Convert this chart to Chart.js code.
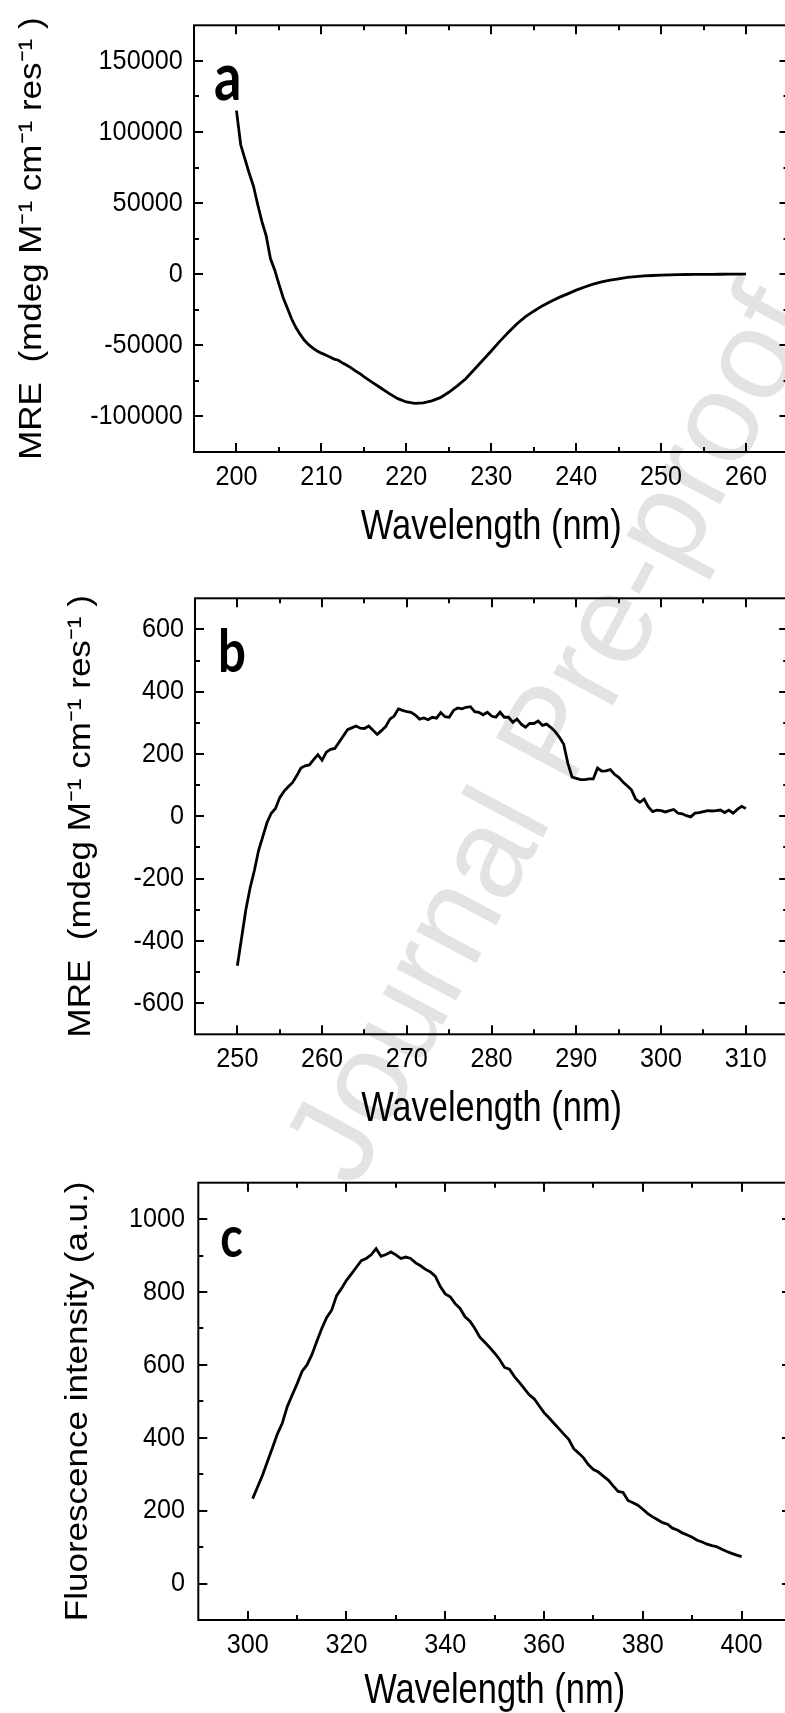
<!DOCTYPE html>
<html>
<head>
<meta charset="utf-8">
<script src="https://cdn.jsdelivr.net/npm/chart.js@4.4.0/dist/chart.umd.min.js"></script>
<style>
html,body{margin:0;padding:0;background:#fff;width:785px;height:1713px;overflow:hidden;position:relative}
#wm{position:absolute;left:548px;top:733px;transform:translate(-50%,-50%) rotate(-62deg);font-family:'Liberation Sans',Arial,sans-serif;font-size:128px;color:#e3e3e3;white-space:nowrap;z-index:0}
canvas{position:absolute;left:0;z-index:1}
</style>
</head>
<body>
<div id="wm">Journal Pre-proof</div>
<canvas id="ca" width="900" height="560" style="top:0px;width:900px;height:560px"></canvas>
<canvas id="cb" width="900" height="580" style="top:560px;width:900px;height:580px"></canvas>
<canvas id="cc" width="900" height="573" style="top:1140px;width:900px;height:573px"></canvas>
<script>
// ---------- Panel a : far-UV CD ----------
const wlA = [200,200.5,201,201.5,202,202.5,203,203.5,204,204.5,205,205.5,206,206.5,207,207.5,208,208.5,209,209.5,210,210.5,211,211.5,212,212.5,213,213.5,214,214.5,215,
  216,217,218,219,220,221,222,223,224,225,226,227,228,229,230,231,232,233,234,235,236,237,238,239,240,241,242,243,244,245,246,247,248,249,250,251,252,253,254,255,256,257,258,259,260];
const mreA = [115000,91000,81000,71000,62000,49000,37000,27000,11000,3000,-7000,-16500,-24000,-31500,-37500,-42300,-46500,-49500,-52000,-54000,-55500,-56800,-58200,-59700,-60500,-62500,-64000,-65800,-68000,-69800,-72000,
  -76000,-80000,-84000,-87500,-89800,-90800,-90500,-89000,-86800,-83000,-78500,-73500,-67000,-60500,-54000,-47200,-41000,-35000,-30000,-26000,-22300,-19200,-16300,-13800,-11200,-9000,-7000,-5400,-4200,-3200,-2300,-1700,-1200,-900,-600,-450,-300,-200,-150,-100,-50,-20,0,0,0];
const xTicksA = [200,210,220,230,240,250,260];
const yTicksA = [-100000,-50000,0,50000,100000,150000];

// ---------- Panel b : near-UV CD ----------
const wlB = [250,250.5,251,251.5,252,252.5,253,253.5,254,254.5,255,255.5,256,256.5,257,257.5,258,258.5,259,259.5,
  260,260.5,261,261.5,262,262.5,263,263.5,264,264.5,265,265.5,266,266.5,267,267.5,268,268.5,269,269.5,
  270,270.5,271,271.5,272,272.5,273,273.5,274,274.5,275,275.5,276,276.5,277,277.5,278,278.5,279,279.5,
  280,280.5,281,281.5,282,282.5,283,283.5,284,284.5,285,285.5,286,286.5,287,287.5,288,288.5,289,289.5,
  290,290.5,291,291.5,292,292.5,293,293.5,294,294.5,295,295.5,296,296.5,297,297.5,298,298.5,299,299.5,
  300,300.5,301,301.5,302,302.5,303,303.5,304,304.5,305,305.5,306,306.5,307,307.5,308,308.5,309,309.5,310];
const mreB = [-480,-390,-300,-230,-175,-110,-65,-20,10,25,60,80,95,108,130,155,162,165,182,198,
  180,206,215,218,238,258,278,284,290,283,282,290,276,263,275,288,312,322,345,340,
  336,334,325,312,316,310,318,315,333,320,318,340,348,345,350,352,336,334,326,334,
  322,318,334,318,318,302,312,296,286,298,298,306,292,296,285,272,254,232,170,126,
  122,118,118,120,120,155,145,146,150,135,125,110,98,85,55,45,55,30,15,20,
  18,14,18,22,10,8,2,-2,10,12,15,18,17,18,20,12,20,10,22,32,25];
const xTicksB = [250,260,270,280,290,300,310];
const yTicksB = [-600,-400,-200,0,200,400,600];

// ---------- Panel c : intrinsic fluorescence ----------
const wlC = [301,302,303,304,305,306,307,308,309,310,311,312,313,314,315,316,317,318,319,320,
  321,322,323,324,325,326,327,328,329,330,331,332,333,334,335,336,337,338,339,340,
  341,342,343,344,345,346,347,348,349,350,351,352,353,354,355,356,357,358,359,360,
  361,362,363,364,365,366,367,368,369,370,371,372,373,374,375,376,377,378,379,380,
  381,382,383,384,385,386,387,388,389,390,391,392,393,394,395,396,397,398,399,400];
const fluC = [233,265,297,335,372,410,440,485,517,548,582,600,628,665,700,730,750,790,810,832,
  850,868,886,892,902,919,898,903,910,902,892,896,892,880,872,862,855,843,815,795,
  787,768,755,732,720,700,676,662,648,632,615,593,588,568,552,535,518,507,488,469,
  455,440,425,410,396,370,358,345,326,313,306,295,284,268,253,250,228,222,215,204,
  192,183,175,167,163,152,147,139,133,127,119,114,108,104,101,94,88,83,78,74];
const xTicksC = [300,320,340,360,380,400];
const yTicksC = [0,200,400,600,800,1000];

const SANS = "'Liberation Sans', Arial, sans-serif";
const TICK_FONT = {family: SANS, size: 28, lineHeight: 1};
const XTITLE_FONT = {family: SANS, size: 42, lineHeight: 1};

// the original artwork uses condensed lettering: condense text runs horizontally around their anchor
function squeezeFor(ctx, rotated) {
  const f = ctx.font;
  if (rotated) return 0.9;           // y-axis titles
  if (f.indexOf('Lato') >= 0) return 0.82; // panel letters
  if (f.indexOf('42px') >= 0) return 0.82; // x-axis title
  return 0.9;                        // tick labels
}
function condenseText(ctx) {
  const orig = ctx.fillText.bind(ctx);
  ctx.fillText = function(text, x, y, maxWidth) {
    const m = this.getTransform();
    const sx = squeezeFor(this, Math.abs(m.b) > 1e-6);
    const px = m.a * x + m.c * y + m.e;
    this.save();
    this.setTransform(new DOMMatrix([sx, 0, 0, 1, px - sx * px, 0]).multiply(m));
    if (maxWidth === undefined) orig(text, x, y); else orig(text, x, y, maxWidth);
    this.restore();
  };
}

function midpoints(t, lo, hi) {
  const step = t[1] - t[0], out = [];
  for (let v = t[0] - step / 2; v <= t[t.length - 1] + step / 2 + 1e-9; v += step) if (v > lo && v < hi) out.push(v);
  return out;
}

const framePlugin = {
  id: 'frame',
  afterDraw(chart, args, o) {
    const {ctx, chartArea: a, scales: {x, y}} = chart;
    ctx.save();
    ctx.strokeStyle = '#000';
    ctx.lineWidth = 2;
    ctx.strokeRect(a.left, a.top, a.right - a.left, a.bottom - a.top);
    const xmaj = o.xTicks, ymaj = o.yTicks;
    const xmin = midpoints(xmaj, x.min, x.max), ymin = midpoints(ymaj, y.min, y.max);
    ctx.beginPath();
    const hx = (v, L) => { const p = Math.round(x.getPixelForValue(v)); ctx.moveTo(p, a.bottom); ctx.lineTo(p, a.bottom - L); ctx.moveTo(p, a.top); ctx.lineTo(p, a.top + L); };
    const hy = (v, L) => { const p = Math.round(y.getPixelForValue(v)); ctx.moveTo(a.left, p); ctx.lineTo(a.left + L, p); ctx.moveTo(a.right, p); ctx.lineTo(a.right - L, p); };
    xmaj.forEach(v => hx(v, 9)); xmin.forEach(v => hx(v, 5));
    ymaj.forEach(v => hy(v, 9)); ymin.forEach(v => hy(v, 5));
    ctx.stroke();
    ctx.fillStyle = '#000';
    ctx.font = 'bold ' + o.letterSize + 'px Lato, "Open Sans", sans-serif';
    ctx.textBaseline = 'alphabetic';
    ctx.textAlign = 'left';
    ctx.fillText(o.letter, a.left + o.lx, a.top + o.ly);
    ctx.restore();
  }
};

function makeChart(id, cfg) {
  const canvas = document.getElementById(id);
  condenseText(canvas.getContext('2d'));
  const pts = cfg.xs.map((v, i) => ({x: v, y: cfg.ys[i]}));
  return new Chart(canvas, {
    type: 'line',
    data: { datasets: [{ data: pts, borderColor: '#000', borderWidth: 2.8, pointRadius: 0, tension: 0, fill: false }] },
    options: {
      responsive: false, animation: false, devicePixelRatio: 1,
      layout: { padding: { left: cfg.padLeft, top: cfg.padTop, right: cfg.padRight, bottom: 0 } },
      plugins: { legend: {display: false}, tooltip: {enabled: false},
        frame: { xTicks: cfg.xTicks, yTicks: cfg.yTicks, letter: cfg.letter, letterSize: cfg.letterSize, lx: cfg.lx, ly: cfg.ly } },
      scales: {
        x: { type: 'linear', position: 'bottom', min: cfg.xmin, max: cfg.xmax,
          grid: { display: false, drawTicks: false }, border: { display: false },
          afterBuildTicks: s => { s.ticks = cfg.xTicks.map(v => ({value: v})); },
          afterFit: s => { s.height = cfg.xHeight; },
          ticks: { font: TICK_FONT, color: '#000', padding: 11, maxRotation: 0, autoSkip: false },
          title: { display: true, text: 'Wavelength (nm)', font: XTITLE_FONT, color: '#000', padding: {top: 0, bottom: cfg.xTitlePad} } },
        y: { type: 'linear', position: 'left', min: cfg.ymin, max: cfg.ymax,
          grid: { display: false, drawTicks: false }, border: { display: false },
          afterBuildTicks: s => { s.ticks = cfg.yTicks.map(v => ({value: v})); },
          afterFit: s => { s.width = cfg.yWidth; },
          ticks: { font: TICK_FONT, color: '#000', padding: cfg.yTickPad, autoSkip: false, callback: v => String(v) },
          title: { display: true, text: cfg.yTitle, font: {family: SANS, size: cfg.yTitleSize, lineHeight: 1}, color: '#000', padding: {top: 0, bottom: 0} } }
      }
    },
    plugins: [framePlugin]
  });
}

makeChart('ca', { xs: wlA, ys: mreA, xTicks: xTicksA, yTicks: yTicksA, xmin: 195, xmax: 265, ymin: -125000, ymax: 175000,
  padLeft: 15, padTop: 15, padRight: 111.5, yWidth: 179, xHeight: 108, xTitlePad: 11.5, yTickPad: 11.3,
  yTitle: 'MRE  (mdeg M\u207B\u00B9 cm\u207B\u00B9 res\u207B\u00B9 )', yTitleSize: 35, letter: 'a', letterSize: 66, lx: 20, ly: 75 });

makeChart('cb', { xs: wlB, ys: mreB, xTicks: xTicksB, yTicks: yTicksB, xmin: 245, xmax: 315, ymin: -700, ymax: 700,
  padLeft: 63.5, padTop: 38.3, padRight: 111.8, yWidth: 131.5, xHeight: 105.7, xTitlePad: 10, yTickPad: 11,
  yTitle: 'MRE  (mdeg M\u207B\u00B9 cm\u207B\u00B9 res\u207B\u00B9 )', yTitleSize: 35, letter: 'b', letterSize: 60, lx: 23, ly: 73.7 });

makeChart('cc', { xs: wlC, ys: fluC, xTicks: xTicksC, yTicks: yTicksC, xmin: 290, xmax: 410, ymin: -100, ymax: 1100,
  padLeft: 60.5, padTop: 42.7, padRight: 109, yWidth: 137.8, xHeight: 93, xTitlePad: 1, yTickPad: 13.3,
  yTitle: 'Fluorescence intensity (a.u.)', yTitleSize: 35, letter: 'c', letterSize: 57, lx: 22, ly: 74.6 });
</script>
</body>
</html>
